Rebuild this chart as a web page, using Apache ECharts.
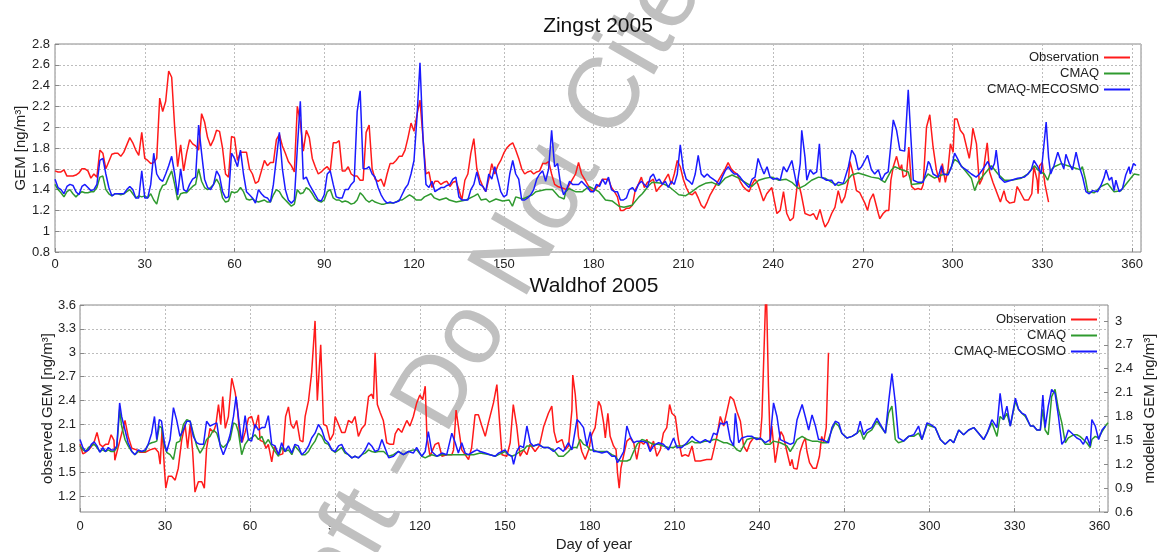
<!DOCTYPE html>
<html>
<head>
<meta charset="utf-8">
<title>Zingst / Waldhof 2005</title>
<script src="https://cdn.jsdelivr.net/npm/echarts@6/dist/echarts.min.js"></script>
<style>
  html, body { margin: 0; padding: 0; background: #fff; }
  #chart { width: 1161px; height: 552px; }
</style>
</head>
<body>
<div id="chart"></div>
<script>
// day ticks, shared by both panels
var dayTicks = [0, 30, 60, 90, 120, 150, 180, 210, 240, 270, 300, 330, 360];
var waldhofObsTicks = [1.2, 1.5, 1.8, 2.1, 2.4, 2.7, 3, 3.3, 3.6];
var seriesNames = ['Observation', 'CMAQ', 'CMAQ-MECOSMO'];

// Zingst 2005 - observation [day, ng/m3]
var zingstObs = [
  [0,1.58],[1,1.57],[2,1.57],[3,1.59],[4,1.53],[5,1.53],[6,1.53],[7,1.54],[8,1.56],[9,1.60],[10,1.60],[11,1.58],[12,1.51],[13,1.55],[14,1.52],
  [15,1.78],[16,1.75],[17,1.60],[18,1.67],[19,1.74],[20,1.75],[21,1.75],[22,1.72],[23,1.76],[24,1.83],[25,1.90],[26,1.85],[27,1.78],[28,1.73],[29,1.95],
  [30,1.70],[31,1.68],[32,1.65],[33,1.66],[34,1.70],[35,2.28],[36,2.15],[37,2.25],[38,2.54],[39,2.48],[40,2.00],[41,1.62],[42,1.83],[43,1.58],[44,1.75],
  [45,1.88],[46,1.84],[47,1.82],[48,1.78],[49,2.13],[50,2.05],[51,1.90],[52,1.82],[53,1.88],[54,1.97],[55,1.96],[56,1.80],[57,1.55],[58,1.52],[59,1.91],
  [60,1.90],[61,1.68],[62,1.76],[63,1.76],[64,1.76],[65,1.60],[66,1.55],[67,1.46],[68,1.48],[69,1.58],[70,1.68],[71,1.63],[72,1.66],[73,1.66],[74,1.88],
  [75,1.93],[76,1.82],[77,1.75],[78,1.67],[79,1.63],[80,1.57],[81,2.20],[82,2.05],[83,1.77],[84,1.97],[85,1.90],[86,1.70],[87,1.62],[88,1.55],[89,1.57],
  [90,1.60],[91,1.62],[92,1.58],[93,1.85],[94,1.85],[95,1.87],[96,1.58],[97,1.58],[98,1.62],[99,1.55],[100,1.53],[101,1.53],[102,1.49],[103,1.49],[104,1.95],
  [105,2.02],[106,1.60],[107,1.50],[108,1.48],[109,1.50],[110,1.43],[111,1.55],[112,1.65],[113,1.65],[114,1.68],[115,1.72],[116,1.72],[117,1.78],[118,1.90],[119,2.04],
  [120,1.96],[121,2.12],[122,2.26],[123,1.90],[124,1.55],[125,1.57],[126,1.42],[127,1.48],[128,1.48],[129,1.45],[130,1.47],[131,1.48],[132,1.43],[133,1.47],[134,1.48],
  [135,1.40],[136,1.30],[137,1.49],[138,1.55],[139,1.75],[140,1.89],[141,1.60],[142,1.50],[143,1.43],[144,1.38],[145,1.50],[146,1.65],[147,1.55],[148,1.63],[149,1.68],
  [150,1.75],[151,1.80],[152,1.83],[153,1.85],[154,1.78],[155,1.70],[156,1.60],[157,1.55],[158,1.57],[159,1.58],[160,1.55],[161,1.57],[162,1.58],[163,1.65],[164,1.65],
  [165,1.67],[166,1.55],[167,1.45],[168,1.43],[169,1.42],[170,1.41],[171,1.40],[172,1.45],[173,1.50],[174,1.55],[175,1.66],[176,1.55],[177,1.50],[178,1.45],[179,1.40],
  [180,1.38],[181,1.42],[182,1.45],[183,1.50],[184,1.50],[185,1.50],[186,1.42],[187,1.38],[188,1.33],[189,1.20],[190,1.20],[191,1.22],[192,1.22],[193,1.25],[194,1.40],
  [195,1.45],[196,1.52],[197,1.42],[198,1.47],[199,1.48],[200,1.50],[201,1.38],[202,1.42],[203,1.45],[204,1.50],[205,1.55],[206,1.45],[207,1.55],[208,1.68],[209,1.62],
  [210,1.50],[211,1.42],[212,1.36],[213,1.35],[214,1.38],[215,1.32],[216,1.25],[217,1.22],[218,1.28],[219,1.35],[220,1.40],[221,1.45],[222,1.50],[223,1.55],[224,1.60],
  [225,1.66],[226,1.60],[227,1.57],[228,1.55],[229,1.48],[230,1.43],[231,1.40],[232,1.38],[233,1.45],[234,1.50],[235,1.45],[236.8,1.29],[237.9,1.36],[239.6,1.42],
  [241.3,1.17],[242.4,1.20],[243.5,1.38],[244.6,1.17],[245.7,1.10],[246.8,1.13],[248.3,1.49],[249.4,1.36],[250.7,1.17],[252.4,1.15],[253.5,1.17],[254.6,1.11],
  [255.7,1.21],[256.8,1.09],[257.4,1.04],[258.5,1.09],[259.6,1.17],[260.7,1.23],[261.8,1.39],[262.9,1.27],[264,1.33],[265.2,1.49],[265.7,1.67],[266.8,1.55],
  [267.9,1.39],[269,1.37],[270.7,1.27],[271.6,1.20],[272.4,1.30],[273.5,1.36],[275.2,1.17],[275.7,1.12],[276.8,1.17],[277.9,1.20],[278.7,1.20],[279.4,1.49],
  [280.2,1.62],[281.3,1.72],[282.4,1.59],[283,1.64],[283.5,1.52],[284.6,1.54],[285.4,1.81],[286.3,1.43],[287.4,1.40],[288.5,1.41],[289.6,1.40],[290.2,1.45],
  [291.3,2.00],[292.4,2.12],[293.5,1.81],[294.6,1.59],[295.7,1.47],[296.6,1.65],[297.6,1.47],[298.5,1.60],[299.3,1.84],[300.2,1.76],[300.7,2.08],[301.5,2.08],
  [302.6,1.97],[303.7,1.93],[305.6,1.70],[306.3,1.84],[306.8,1.99],[308,1.84],[309,1.45],[310,1.51],[311.1,1.75],[311.6,1.85],[312.4,1.57],[313.5,1.47],
  [316,1.28],[317.2,1.39],[318,1.30],[319.1,1.27],[320.7,1.28],[321.6,1.43],[322.9,1.36],[324,1.30],[325.4,1.30],[326.5,1.36],[327.2,1.62],[328.3,1.49],
  [328.6,1.36],[329.1,1.63],[330,1.66],[330.9,1.45],[332.1,1.28]
];

// Zingst 2005 - CMAQ
var zingstCmaq = [
  [0,1.45],[1,1.40],[2,1.37],[3,1.33],[4,1.38],[5,1.40],[6,1.36],[7,1.33],[8,1.36],[9,1.38],[10,1.37],[11,1.37],[12,1.38],[13,1.38],[14,1.42],
  [15,1.52],[16,1.53],[17,1.40],[18,1.36],[19,1.34],[20,1.36],[21,1.36],[22,1.35],[23,1.36],[24,1.38],[25,1.40],[26,1.36],[27,1.32],[28,1.34],[29,1.33],
  [30,1.34],[31,1.32],[32,1.36],[33,1.30],[34,1.26],[35,1.38],[36,1.44],[37,1.45],[38,1.52],[39,1.58],[40,1.45],[41,1.30],[42,1.36],[43,1.37],[44,1.37],
  [45,1.40],[46,1.43],[47,1.45],[48,1.60],[49,1.48],[50,1.42],[51,1.40],[52,1.42],[53,1.45],[54,1.50],[55,1.45],[56,1.32],[57,1.28],[58,1.29],[59,1.38],
  [60,1.37],[61,1.38],[62,1.42],[63,1.38],[64,1.31],[65,1.30],[66,1.31],[67,1.29],[68,1.28],[69,1.29],[70,1.30],[71,1.28],[72,1.28],[73,1.35],[74,1.40],
  [75,1.38],[76,1.33],[77,1.30],[78,1.27],[79,1.24],[80,1.26],[81,1.40],[82,1.36],[83,1.37],[84,1.42],[85,1.40],[86,1.36],[87,1.31],[88,1.29],[89,1.28],
  [90,1.30],[91,1.38],[92,1.40],[93,1.32],[94,1.30],[95,1.30],[96,1.28],[97,1.29],[98,1.28],[99,1.26],[100,1.27],[101,1.30],[102,1.37],[103,1.34],[104,1.30],
  [105,1.28],[106,1.30],[107,1.28],[108,1.27],[109,1.26],[110,1.26],[111,1.27],[112,1.27],[113,1.27],[114,1.28],[115,1.30],[116,1.30],[118.5,1.35],[119.6,1.33],
  [120.7,1.30],[122.4,1.30],[123.5,1.33],[125.7,1.36],[126.8,1.32],[128.5,1.30],[130.7,1.32],[131.8,1.30],[134.1,1.28],[137.4,1.30],[140.2,1.34],[141.3,1.36],
  [142.4,1.30],[144.1,1.31],[145.2,1.28],[147.4,1.31],[149.6,1.29],[151.8,1.30],[152.9,1.24],[154,1.33],[156.3,1.31],[159.6,1.35],[160.7,1.38],[164.1,1.40],
  [166.3,1.40],[168.5,1.33],[170.2,1.31],[170.7,1.38],[171.8,1.41],[174,1.38],[176.3,1.38],[178.5,1.43],[181.8,1.38],[184,1.30],[186.3,1.29],[188.5,1.24],
  [190.2,1.23],[192.9,1.25],[195.2,1.33],[196.3,1.36],[198.5,1.44],[199.6,1.47],[203,1.46],[205.2,1.43],[208.5,1.35],[210.7,1.34],[212.9,1.38],[215.2,1.43],
  [217.4,1.46],[219.6,1.47],[221.8,1.44],[224,1.51],[226.3,1.54],[228.5,1.51],[230.7,1.47],[232.9,1.43],[235.2,1.49],[237.4,1.51],[239.6,1.52],[242,1.49],
  [244.3,1.50],[246.3,1.47],[248.5,1.41],[250.7,1.44],[252.9,1.49],[255.2,1.52],[257.4,1.51],[259.6,1.47],[261.8,1.44],[264,1.46],[266.3,1.54],[268.5,1.56],
  [270.7,1.54],[272.9,1.52],[275.2,1.51],[277.4,1.47],[279.6,1.59],[280.7,1.62],[283,1.59],[285.2,1.57],[286.3,1.45],[289.6,1.46],[291.8,1.55],[294,1.51],
  [296.3,1.54],[298.5,1.55],[300.7,1.69],[301.8,1.67],[304,1.59],[306.3,1.51],[307.4,1.39],[308.5,1.47],[310.7,1.55],[313,1.63],[315.2,1.55],[317.4,1.49],
  [319.6,1.49],[323,1.51],[325.2,1.55],[327.4,1.63],[328.5,1.59],[330.7,1.55],[331.8,1.49],[333,1.59],[334,1.62],[336.3,1.65],[339.6,1.62],[342.8,1.59],
  [343.4,1.62],[344.5,1.49],[345.2,1.38],[347.4,1.37],[349.6,1.43],[351.8,1.46],[354,1.38],[356.3,1.39],[358.5,1.47],[360.7,1.55],[362.5,1.54]
];

// Zingst 2005 - CMAQ-MECOSMO
var zingstMecosmo = [
  [0,1.50],[1,1.42],[2,1.40],[3,1.36],[4,1.43],[5,1.45],[6,1.44],[7,1.38],[8,1.35],[9,1.43],[10,1.45],[11,1.42],[12,1.39],[13,1.40],[14,1.45],
  [15,1.68],[16,1.70],[17,1.55],[18,1.42],[19,1.34],[20,1.36],[21,1.36],[22,1.36],[23,1.36],[24,1.40],[25,1.43],[26,1.40],[27,1.32],[28,1.32],[29,1.58],
  [30,1.32],[31,1.32],[32,1.45],[33,1.75],[34,1.55],[35,1.50],[36,1.48],[37,1.55],[38,1.63],[39,1.72],[40,1.55],[41,1.35],[42,1.60],[43,1.40],[44,1.38],
  [45,1.45],[46,1.50],[47,1.52],[48,2.02],[49,1.75],[50,1.50],[51,1.42],[52,1.40],[53,1.45],[54,1.58],[55,1.53],[56,1.38],[57,1.32],[58,1.33],[59,1.75],
  [60,1.70],[61,1.62],[62,1.78],[63,1.55],[64,1.38],[65,1.35],[66,1.32],[67,1.27],[68,1.40],[69,1.36],[70,1.33],[71,1.32],[72,1.28],[73,1.45],[74,1.70],
  [75,1.95],[76,1.60],[77,1.40],[78,1.30],[79,1.27],[80,1.30],[81,1.80],[82,2.25],[83,1.50],[84,1.52],[85,1.45],[86,1.40],[87,1.35],[88,1.30],[89,1.29],
  [90,1.35],[91,1.55],[92,1.58],[93,1.45],[94,1.33],[95,1.32],[96,1.32],[97,1.40],[98,1.40],[99,1.45],[100,1.48],[101,2.15],[102,2.35],[103,1.60],[104,1.60],
  [105,1.62],[106,1.55],[107,1.52],[108,1.42],[109,1.35],[110,1.30],[111,1.27],[112,1.28],[113,1.27],[114,1.28],[115,1.29],[116,1.35],[117,1.41],[118,1.45],[119,1.55],
  [120,1.68],[121,2.10],[122,2.62],[123,1.90],[124,1.45],[125,1.42],[126,1.48],[127,1.38],[128,1.40],[129,1.42],[130,1.42],[131,1.44],[132,1.45],[133,1.50],[134,1.52],
  [135,1.33],[136,1.30],[137,1.30],[138,1.30],[139,1.40],[140,1.45],[141,1.57],[142,1.45],[143,1.43],[144,1.38],[145,1.55],[146,1.50],[147,1.62],[148,1.50],[149,1.38],
  [150,1.33],[151,1.35],[152,1.55],[153,1.68],[154,1.55],[155,1.50],[156,1.30],[157,1.30],[158,1.32],[159,1.35],[160,1.40],[161,1.50],[162,1.55],[163,1.58],[164,1.48],
  [165,1.60],[166,1.97],[167,1.62],[168,1.65],[169,1.45],[170,1.35],[171,1.40],[172,1.48],[173,1.45],[174,1.45],[175,1.45],[176,1.48],[177,1.45],[178,1.42],[179,1.38],
  [180,1.38],[181,1.45],[182,1.43],[183,1.50],[184,1.45],[185,1.52],[186,1.40],[187,1.38],[188,1.38],[189,1.30],[190,1.30],[191,1.32],[192,1.40],[193,1.42],[194,1.38],
  [195,1.45],[196,1.48],[197,1.45],[198,1.42],[199,1.52],[200,1.55],[201,1.48],[202,1.50],[203,1.45],[204,1.48],[205,1.42],[206,1.48],[207,1.45],[208,1.55],[209,1.83],
  [210,1.60],[211,1.50],[212,1.48],[213,1.45],[214,1.55],[215,1.73],[216,1.55],[217,1.52],[218,1.55],[219,1.52],[220,1.50],[221,1.48],[222,1.45],[223,1.52],[224,1.58],
  [225,1.62],[226,1.58],[227,1.55],[228,1.55],[229,1.52],[230,1.48],[231,1.45],[232,1.42],[233,1.50],[234,1.52],[235,1.70],[236,1.62],[237,1.55],[238,1.62],[239,1.52],
  [240,1.50],[241.3,1.51],[242.4,1.49],[243.5,1.62],[244.6,1.57],[246.3,1.68],[248,1.43],[249.1,1.65],[249.6,1.97],[250.7,1.71],[251.3,1.49],[252.4,1.59],
  [253.5,1.55],[254.6,1.57],[255.5,1.84],[256.2,1.52],[257.9,1.49],[259.6,1.49],[260.7,1.44],[261.8,1.47],[263.5,1.46],[265.2,1.62],[266.3,1.78],[267.4,1.73],
  [268.5,1.59],[269.6,1.62],[270.7,1.68],[271.6,1.73],[272.9,1.59],[274,1.55],[275.2,1.59],[276.3,1.49],[277.4,1.55],[278.5,1.57],[280.2,2.07],[281.3,1.97],
  [282.4,1.78],[284,1.77],[285.2,2.36],[285.7,2.10],[286.9,1.49],[288.5,1.47],[290.2,1.47],[291.3,1.59],[291.9,1.67],[292.4,1.65],[293.5,1.55],[295.2,1.52],
  [296.3,1.63],[296.9,1.55],[298.5,1.54],[299.7,1.62],[300.7,1.75],[301.8,1.69],[303,1.62],[304.6,1.59],[306.3,1.55],[307.9,1.52],[309,1.55],[310.7,1.62],
  [311.8,1.67],[313,1.59],[314,1.65],[314.6,1.78],[315.7,1.52],[317.4,1.47],[319.6,1.49],[321.8,1.51],[324,1.52],[325.2,1.55],[326.3,1.59],[327.2,1.68],
  [328.5,1.62],[329.6,1.55],[331.3,2.05],[332.1,1.71],[332.8,1.55],[333.9,1.63],[335.2,1.76],[336.1,1.68],[337.2,1.60],[337.9,1.74],[339,1.65],[340.1,1.59],
  [341.3,1.76],[342.4,1.62],[343.5,1.52],[344.6,1.38],[345.7,1.36],[346.8,1.39],[348.5,1.38],[349.6,1.44],[350.7,1.52],[351.3,1.59],[352.4,1.49],[353.2,1.52],
  [354,1.39],[354.6,1.49],[355.7,1.38],[356.8,1.41],[357.9,1.54],[359,1.62],[359.4,1.55],[360.5,1.65],[361.3,1.63]
];

// Waldhof 2005 - observation (left axis)
var waldhofObs = [
  [0,1.85],[1,1.73],[2,1.75],[3,1.78],[4,1.82],[5,1.88],[6,2.00],[7,1.85],[8,1.82],[9,1.85],[10,1.85],[11,1.97],[12,1.90],[12.3,1.65],[14.1,1.90],
  [15.9,2.15],[17,1.95],[18.3,1.80],[20,1.78],[21.2,1.75],[23,1.75],[24.7,1.78],[26.5,1.80],[27.7,1.75],[28.3,1.60],[29,2.05],[29.8,1.55],[30.3,1.30],
  [31.2,1.45],[32.4,1.45],[33.6,1.40],[34.7,1.55],[35.9,1.90],[37.1,2.10],[38,1.80],[38.9,2.10],[39.8,1.75],[40.6,1.25],[41.8,1.38],[43,1.38],[43.9,1.30],
  [44.7,1.80],[45.9,2.05],[47.1,2.00],[48,2.10],[48.9,2.35],[49.7,2.10],[50.4,2.45],[51.3,2.05],[52.4,2.20],[53.6,2.68],[54.8,2.50],[55.6,2.30],[56.5,1.90],
  [57.3,1.88],[58.3,2.00],[59.5,2.18],[60.6,2.20],[61.8,2.05],[63,2.22],[63.6,1.90],[64.8,1.88],[65.7,1.80],[66.5,1.85],[67.7,1.63],[68.6,1.82],[69.7,1.75],
  [70.6,1.72],[71.6,1.73],[72.6,2.20],[73.6,2.32],[74.5,2.10],[75.4,2.05],[76.5,2.15],[77.7,1.90],[78.7,1.88],[79.5,2.20],[80.7,2.40],[81.8,2.75],[83,3.40],
  [83.8,2.40],[85,3.10],[86,2.10],[87.1,2.08],[88.3,1.90],[89.5,1.98],[90.1,2.20],[91.3,2.10],[92.4,2.00],[93.6,2.00],[94.8,2.15],[96,2.12],[97.1,2.20],
  [98.3,1.95],[99.5,2.05],[100.7,2.10],[101.9,2.45],[103,2.48],[103.6,2.42],[104.2,3.00],[105,2.35],[106,2.25],[107.1,2.15],[108.3,1.87],[109.5,1.85],
  [110.7,1.85],[111.3,1.98],[112.4,2.05],[113.6,2.00],[115.4,2.15],[116.5,2.08],[117.7,2.20],[118.9,2.37],[120,2.47],[121,2.41],[121.9,2.58],[122.5,1.95],
  [123.6,1.70],[125.4,1.85],[126.6,1.87],[127.8,1.70],[129.5,1.72],[131.3,1.72],[131.9,1.78],[132.8,2.28],[133.6,2.08],[134.8,1.78],[136,1.72],[137.2,1.66],
  [138.3,1.81],[139.5,2.22],[140.7,2.22],[141.9,2.08],[143.1,1.95],[144.2,2.12],[146,2.37],[147.2,2.60],[148.1,2.16],[149,1.72],[150.7,1.70],[151.9,1.87],
  [153,2.35],[154.2,2.08],[155.4,1.70],[156.6,1.78],[157.8,1.72],[158.9,1.85],[160.7,1.76],[162.2,1.83],[163.7,2.07],[165.4,2.24],[166.6,2.33],[167.4,2.01],
  [168.4,1.87],[170.2,1.91],[171.3,1.78],[172.5,1.83],[173.7,2.28],[174,2.72],[174.9,2.47],[176,1.95],[177.2,1.76],[178.4,1.66],[179.6,1.78],[180.7,1.97],
  [181.9,2.06],[183.1,2.39],[183.9,2.33],[184.9,2.12],[185.5,1.93],[186.4,2.24],[187.2,1.95],[188.4,1.83],[189.3,1.78],[189.8,1.49],[190.4,1.30],[191,1.55],
  [191.9,1.70],[193.1,1.89],[194.3,1.93],[195.5,1.87],[196.6,1.66],[197.8,1.89],[199,1.85],[200.2,1.91],[201.3,1.78],[202.5,1.89],[203.7,1.70],[204.9,1.78],
  [206,1.99],[207.2,2.06],[208.2,2.35],[209,2.24],[210.2,2.20],[211.3,1.91],[212.5,1.70],[213.7,1.72],[214.9,1.70],[216.1,1.83],[217.2,1.64],[219,1.64],
  [221.3,1.66],[223,1.66],[224.9,1.95],[226.1,2.20],[227.3,2.08],[229.6,2.45],[230.8,2.41],[232,2.26],[233.2,2.14],[234.3,1.83],[235.5,1.76],[236.6,1.87],
  [237.8,1.93],[240.2,1.91],[240.8,2.20],[242.3,3.90],[243.1,2.58],[243.7,1.87],[244.3,2.08],[245.5,1.62],[246.7,1.89],[247.5,2.01],[248.4,1.95],[249.6,1.76],
  [250.8,1.58],[251.4,1.66],[252,1.55],[253.2,1.54],[254.3,1.76],[255.3,1.87],[256.1,1.93],[256.7,1.76],[257.6,1.62],[258.8,1.55],[260,1.55],[261.1,1.70],
  [261.9,1.95],[262.6,1.87],[263.5,2.06],[264.3,3.00]
];

// Waldhof 2005 - CMAQ (right axis)
var waldhofCmaq = [
  [0,1.43],[1,1.38],[2,1.36],[3,1.41],[4,1.43],[5,1.45],[6,1.41],[7,1.36],[8,1.38],[9,1.36],[10,1.38],[11,1.36],[12,1.36],[13,1.41],[14,1.89],
  [14.7,1.68],[15.9,1.51],[17,1.43],[18.3,1.36],[19.4,1.32],[20.6,1.36],[21.8,1.36],[23,1.36],[24.1,1.45],[25.3,1.47],[26.3,1.48],[27.1,1.49],[28,1.68],
  [28.8,1.66],[29.8,1.43],[30.6,1.35],[31.8,1.32],[33,1.26],[34.1,1.47],[35.3,1.49],[36.5,1.70],[37.7,1.76],[38.9,1.74],[40,1.59],[41.2,1.43],[42.4,1.34],
  [43.6,1.41],[44.7,1.51],[45.9,1.55],[47.1,1.63],[48.3,1.59],[49.5,1.45],[50.6,1.41],[51.8,1.45],[53,1.51],[54.2,1.72],[55.1,1.70],[55.9,1.61],[57.1,1.32],
  [58.3,1.45],[59.5,1.51],[60.6,1.53],[61.8,1.57],[63,1.51],[64.2,1.55],[65.3,1.45],[66.5,1.51],[67.7,1.43],[68.9,1.36],[70.1,1.30],[71.2,1.41],[72.4,1.36],
  [73.6,1.38],[74.8,1.32],[75.9,1.43],[77.1,1.38],[78.3,1.32],[79.5,1.32],[80.7,1.36],[81.8,1.43],[83,1.49],[84.2,1.59],[85.4,1.55],[86.5,1.47],[87.7,1.45],
  [88.9,1.38],[90.1,1.35],[91.3,1.38],[92.4,1.41],[93.6,1.34],[94.8,1.32],[96,1.28],[97.1,1.30],[98.3,1.28],[99.5,1.32],[100.7,1.34],[101.9,1.38],[103,1.36],
  [104.2,1.35],[105.4,1.36],[107.2,1.36],[109,1.30],[110.7,1.32],[112.4,1.36],[114.2,1.32],[116,1.36],[117.7,1.38],[118.9,1.38],[120.7,1.30],[121.9,1.28],
  [123,1.30],[124.2,1.32],[126,1.30],[127.8,1.32],[129.5,1.32],[131.3,1.32],[134.8,1.32],[139,1.32],[141.3,1.34],[144.8,1.32],[146.6,1.30],[147.8,1.32],
  [149,1.34],[150.1,1.36],[151.3,1.32],[152.5,1.30],[153.8,1.32],[155.4,1.36],[156.6,1.38],[157.8,1.43],[159,1.43],[160.1,1.43],[161.9,1.45],[163.7,1.41],
  [165.4,1.41],[167.2,1.38],[169,1.30],[170.7,1.30],[172.5,1.36],[173.7,1.41],[175.5,1.41],[176.6,1.51],[177.8,1.45],[179,1.43],[180.2,1.38],[181.3,1.38],
  [182.5,1.36],[184.3,1.36],[186.1,1.36],[187.8,1.32],[189,1.30],[189.8,1.26],[190.8,1.24],[192,1.24],[193.1,1.24],[194.3,1.26],[195.5,1.36],[196.7,1.45],
  [198.4,1.51],[200.2,1.49],[201.3,1.47],[202.5,1.45],[204.3,1.45],[206,1.43],[207.8,1.41],[209.6,1.41],[210.8,1.43],[212.5,1.43],[214.3,1.45],[216.1,1.49],
  [217.2,1.47],[219,1.47],[220.8,1.49],[222.5,1.49],[223.7,1.51],[224.9,1.51],[226.1,1.49],[227.3,1.47],[228.4,1.47],[229.6,1.45],[230.8,1.43],[232,1.38],
  [233.2,1.36],[234.3,1.43],[235.5,1.51],[237.3,1.53],[239,1.53],[240.8,1.51],[242,1.45],[243.7,1.45],[244.9,1.49],[247.3,1.47],[249.6,1.43],[250.8,1.36],
  [252,1.43],[253.2,1.51],[255,1.55],[256.8,1.51],[258.5,1.49],[260.3,1.49],[262,1.47],[263.8,1.47],[265.5,1.63],[266.7,1.72],[267.9,1.68],[269,1.59],
  [270.8,1.53],[272.6,1.55],[274.4,1.59],[275.5,1.63],[276.7,1.51],[277.9,1.59],[279.6,1.63],[281.4,1.74],[282.6,1.68],[284.4,1.59],[285.5,1.84],[286.7,1.93],
  [287.9,1.51],[289,1.47],[290.8,1.49],[292.6,1.55],[294.4,1.55],[296.1,1.59],[297.3,1.51],[299.1,1.70],[300.3,1.68],[302,1.66],[303.8,1.51],[305.5,1.45],
  [307.3,1.51],[308.5,1.47],[310.3,1.63],[312,1.57],[313.8,1.63],[315.6,1.66],[317.3,1.59],[319.1,1.51],[320.3,1.59],[322,1.72],[323.8,1.55],[324.9,1.80],
  [326.1,1.76],[327.3,1.84],[328.5,1.68],[330.3,1.99],[331.4,1.89],[332.6,1.84],[333.8,1.80],[335.6,1.68],[336.7,1.68],[337.9,1.63],[339.1,1.63],[340,1.89],
  [340.8,1.63],[341.9,1.57],[343.1,2.05],[344.3,2.14],[345.5,1.89],[346.7,1.72],[347.9,1.47],[349,1.53],[350.8,1.57],[352,1.57],[353.1,1.55],[354.3,1.51],
  [355.5,1.47],[356.7,1.41],[357.3,1.51],[358.5,1.55],[359.7,1.53],[360.9,1.61],[362.1,1.68],[363,1.72]
];

// Waldhof 2005 - CMAQ-MECOSMO (right axis)
var waldhofMecosmo = [
  [0,1.51],[1,1.41],[2,1.36],[3,1.38],[4,1.45],[5,1.48],[6,1.43],[7,1.35],[8,1.41],[9,1.36],[10,1.41],[11,1.38],[12,1.38],[13,1.43],[14,1.97],
  [14.7,1.80],[15.9,1.63],[17,1.47],[18.3,1.36],[19.4,1.32],[20.6,1.38],[21.8,1.36],[23,1.38],[24.1,1.45],[25.3,1.59],[26.3,1.80],[27.1,1.51],[28,1.76],
  [28.8,1.74],[29.8,1.47],[30.6,1.36],[31.8,1.51],[33,1.91],[34.1,1.76],[35.3,1.55],[36.5,1.63],[37.7,1.74],[38.9,1.74],[40,1.55],[41.2,1.47],[42.4,1.45],
  [43.6,1.45],[44.7,1.74],[45.9,1.68],[47.1,1.70],[48.3,1.72],[49.5,1.43],[50.6,1.32],[51.8,1.43],[53,1.57],[54.2,1.80],[55.1,2.05],[55.9,1.80],[57.1,1.47],
  [58.3,1.81],[59.5,1.51],[60.6,1.49],[61.8,1.70],[63,1.63],[64.2,1.66],[65.3,1.66],[66.5,1.81],[67.7,1.45],[68.9,1.43],[70.1,1.32],[71.2,1.47],[72.4,1.36],
  [73.6,1.43],[74.8,1.34],[75.9,1.45],[77.1,1.43],[78.3,1.32],[79.5,1.36],[80.7,1.43],[81.8,1.53],[83,1.59],[84.2,1.70],[85.4,1.63],[86.5,1.51],[87.7,1.47],
  [88.9,1.38],[90.1,1.36],[91.3,1.43],[92.4,1.45],[93.6,1.36],[94.8,1.32],[96,1.28],[97.1,1.30],[98.3,1.28],[99.5,1.32],[100.7,1.38],[101.9,1.47],[103,1.43],
  [104.2,1.36],[105.4,1.38],[106.6,1.51],[107.2,1.49],[109,1.28],[110.7,1.30],[112.4,1.36],[114.2,1.32],[116,1.36],[117.7,1.34],[118.9,1.41],[120.7,1.30],
  [121.9,1.36],[123,1.61],[124.2,1.36],[126,1.30],[127.8,1.34],[129.5,1.32],[131.3,1.59],[132.5,1.47],[133.6,1.34],[134.8,1.47],[136,1.34],[137.2,1.32],
  [139,1.36],[140.2,1.38],[141.3,1.36],[143.1,1.34],[144.8,1.32],[146.6,1.30],[147.8,1.34],[149,1.36],[150.1,1.38],[151.3,1.32],[152.5,1.30],[153.1,1.20],
  [154.2,1.36],[155.4,1.43],[156.6,1.41],[157.8,1.68],[159,1.47],[160.1,1.43],[161.9,1.45],[163.7,1.41],[165.4,1.41],[167.2,1.36],[169,1.41],[170.7,1.36],
  [172.5,1.47],[173.7,1.38],[175.5,1.76],[176.6,1.72],[177.8,1.66],[179,1.43],[180.2,1.61],[181.3,1.36],[182.5,1.36],[184.3,1.34],[186.1,1.36],[187.8,1.30],
  [189,1.30],[189.8,1.22],[190.8,1.28],[192,1.36],[193.1,1.68],[194.3,1.55],[195.5,1.47],[196.7,1.49],[198.4,1.49],[200.2,1.47],[201.3,1.36],[202.5,1.43],
  [204.3,1.47],[206,1.45],[207.8,1.38],[209.6,1.53],[210.8,1.41],[212.5,1.41],[214.3,1.47],[216.1,1.55],[217.2,1.51],[219,1.47],[220.8,1.51],[222.5,1.47],
  [223.7,1.59],[224.9,1.57],[226.1,1.72],[227.3,1.70],[228.4,1.74],[229.6,1.51],[230.8,1.43],[231.4,1.84],[232.6,1.47],[233.7,1.53],[235.5,1.55],[237.3,1.55],
  [239,1.51],[240.2,1.53],[242,1.47],[243.7,1.51],[244.9,1.97],[246.1,1.80],[247.3,1.51],[248.4,1.49],[249.6,1.47],[250.8,1.45],[252,1.47],[253.2,1.76],
  [255,1.95],[256.1,1.80],[257.3,1.63],[258.5,1.82],[259.7,1.68],[260.8,1.51],[262,1.51],[263.2,1.49],[264.3,1.47],[265.5,1.66],[266.7,1.74],[267.9,1.72],
  [269,1.59],[270.8,1.53],[272.6,1.55],[274.4,1.59],[275.5,1.74],[276.7,1.57],[277.9,1.63],[279.6,1.66],[281.4,1.78],[282.6,1.70],[284.4,1.59],[285.5,1.97],
  [286.7,2.34],[287.9,1.97],[289,1.53],[290.8,1.49],[292.6,1.55],[294.4,1.57],[296.1,1.68],[297.3,1.51],[299.1,1.72],[300.3,1.70],[302,1.66],[303.8,1.51],
  [305.5,1.45],[306.1,1.43],[307.3,1.51],[308.5,1.47],[310.3,1.63],[312,1.57],[313.8,1.63],[315.6,1.66],[317.3,1.59],[319.1,1.51],[320.3,1.59],[322,1.76],
  [323.8,1.66],[324.9,2.09],[326.1,1.76],[327.3,1.93],[328.5,1.68],[330.3,2.03],[331.4,1.89],[332.6,1.84],[333.8,1.82],[335.6,1.68],[336.7,1.68],[337.9,1.63],
  [339.1,1.63],[340,2.07],[340.8,1.66],[341.9,1.93],[343.1,2.14],[344.3,2.09],[345.5,1.80],[346.7,1.45],[347.9,1.51],[349,1.63],[350.8,1.57],[352,1.53],
  [353.1,1.51],[354.3,1.45],[355.5,1.55],[356.7,1.43],[357.3,1.76],[358.5,1.68],[359.7,1.51],[360.9,1.63],[362.1,1.68]
];

var FONT = '"Liberation Sans", Arial, Helvetica, sans-serif';
var colors = ['#ff1a1a', '#2f9a2f', '#1a1aff'];
var gridLine = { show: true, lineStyle: { color: '#bdbdbd', type: [2, 2], width: 1 } };
var labelStyle = { color: '#222', fontSize: 13, fontFamily: FONT };
var nameStyle = { color: '#222', fontSize: 15, fontFamily: FONT };
var titleStyle = { fontSize: 21, fontWeight: 'normal', color: '#111', fontFamily: FONT };
var innerTick = { show: true, inside: true, length: 4, lineStyle: { color: '#888' } };

function dayAxis(gridIndex, extra) {
    var ax = {
        type: 'value',
        gridIndex: gridIndex,
        min: 0,
        max: 363,
        interval: 30,
        axisLine: { show: false },
        axisTick: innerTick,
        axisLabel: Object.assign({ showMaxLabel: false, margin: 6 }, labelStyle),
        splitLine: gridLine
    };
    return Object.assign(ax, extra || {});
}

function line(name, data, xi, yi, color) {
    return {
        name: name,
        type: 'line',
        xAxisIndex: xi,
        yAxisIndex: yi,
        data: data,
        symbol: 'none',
        showSymbol: false,
        clip: true,
        lineStyle: { color: color, width: 1.5 },
        itemStyle: { color: color },
        z: 3
    };
}

// legend items drawn as short lines, text on the left
function legendAt(right, top) {
    return {
        data: seriesNames, orient: 'vertical', align: 'right', right: right, top: top, padding: 0,
        itemWidth: 26, itemHeight: 12, itemGap: 3,
        itemStyle: { opacity: 0 },
        lineStyle: { width: 2 },
        textStyle: { fontSize: 13, color: '#222', fontFamily: FONT, lineHeight: 13 }
    };
}

var chart = echarts.init(document.getElementById('chart'), null, { renderer: 'canvas' });

var option = {
    animation: false,
    backgroundColor: '#fff',
    title: [
        { text: 'Zingst 2005', left: 598, top: 16, padding: 0, textAlign: 'center', textStyle: titleStyle },
        { text: 'Waldhof 2005', left: 594, top: 276, padding: 0, textAlign: 'center', textStyle: titleStyle }
    ],
    legend: [legendAt(30, 51), legendAt(63, 313)],
    grid: [
        { left: 55, top: 44, width: 1086, height: 208, show: true, borderColor: '#888', borderWidth: 1,
          backgroundColor: 'transparent', containLabel: false, outerBoundsMode: 'none' },
        { left: 80, top: 305, width: 1028, height: 207, show: true, borderColor: '#888', borderWidth: 1,
          backgroundColor: 'transparent', containLabel: false, outerBoundsMode: 'none' }
    ],
    xAxis: [
        dayAxis(0),
        dayAxis(1, {
            name: 'Day of year', nameLocation: 'middle', nameGap: 25, nameMoveOverlap: false, nameTextStyle: nameStyle,
            axisLabel: Object.assign({ showMaxLabel: false, margin: 8 }, labelStyle)
        })
    ],
    yAxis: [
        {
            type: 'value', gridIndex: 0, min: 0.8, max: 2.8, interval: 0.2,
            name: 'GEM [ng/m³]', nameLocation: 'middle', nameGap: 27, nameMoveOverlap: false, nameTextStyle: nameStyle,
            axisLine: { show: false },
            axisTick: innerTick,
            axisLabel: Object.assign({ margin: 5 }, labelStyle),
            splitLine: gridLine
        },
        {
            type: 'value', gridIndex: 1, position: 'left', min: 1.0, max: 3.6,
            name: 'observed GEM [ng/m³]', nameLocation: 'middle', nameGap: 25, nameMoveOverlap: false, nameTextStyle: nameStyle,
            axisLine: { show: false },
            axisTick: Object.assign({ customValues: waldhofObsTicks }, innerTick),
            axisLabel: Object.assign({ margin: 4, customValues: waldhofObsTicks }, labelStyle),
            splitLine: gridLine
        },
        {
            type: 'value', gridIndex: 1, position: 'right', min: 0.6, max: 3.2, interval: 0.3,
            name: 'modelled GEM [ng/m³]', nameLocation: 'middle', nameGap: 34, nameMoveOverlap: false, nameTextStyle: nameStyle,
            axisLine: { show: false },
            axisTick: innerTick,
            axisLabel: Object.assign({ margin: 7, showMaxLabel: false }, labelStyle),
            splitLine: { show: false }
        }
    ],
    graphic: [
        {
            // draft watermark across both panels
            type: 'text', x: 474, y: 331, rotation: 60 * Math.PI / 180, silent: true, z: 1,
            style: {
                text: 'Draft - Do Not Cite',
                font: '100px ' + FONT,
                fill: '#c0c0c0',
                textAlign: 'center',
                textVerticalAlign: 'middle'
            }
        }
    ],
    series: [
        line('Observation', zingstObs, 0, 0, colors[0]),
        line('CMAQ', zingstCmaq, 0, 0, colors[1]),
        line('CMAQ-MECOSMO', zingstMecosmo, 0, 0, colors[2]),
        line('Observation', waldhofObs, 1, 1, colors[0]),
        line('CMAQ', waldhofCmaq, 1, 2, colors[1]),
        line('CMAQ-MECOSMO', waldhofMecosmo, 1, 2, colors[2])
    ]
};

chart.setOption(option);
</script>
</body>
</html>
